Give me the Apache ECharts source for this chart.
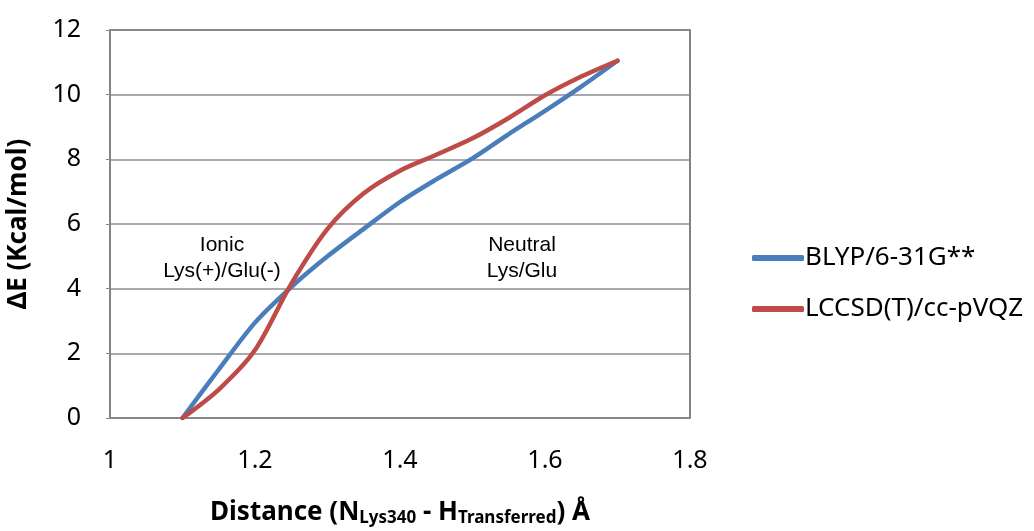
<!DOCTYPE html>
<html>
<head>
<meta charset="utf-8">
<script src="https://cdn.jsdelivr.net/npm/echarts@6/dist/echarts.min.js"></script>
<style>
    html, body {margin: 0; padding: 0; background: #fff;}
    #container {width: 1034px; height: 531px;}
</style>
</head>
<body>
<div id="container"></div>
<script>
var distance = [1.1, 1.15, 1.2, 1.25, 1.3, 1.35, 1.4, 1.45, 1.5, 1.55, 1.6, 1.65, 1.7];
var blyp = [0, 1.5, 2.95, 4.05, 5.0, 5.85, 6.68, 7.38, 8.03, 8.78, 9.5, 10.25, 11.05];
var lccsd = [0, 0.88, 2.1, 4.15, 5.85, 6.95, 7.65, 8.14, 8.65, 9.28, 9.98, 10.56, 11.05];
var seriesNames = ['BLYP/6-31G**', 'LCCSD(T)/cc-pVQZ'];
var yTicks = [0, 2, 4, 6, 8, 10, 12];

var font = '"Noto Sans", "Noto Sans CJK KR", sans-serif';
var notesFont = '"Liberation Sans", Arial, sans-serif';

function pairs(xs, ys) {
    var out = [];
    for (var i = 0; i < xs.length; i++) {
        out.push([xs[i], ys[i]]);
    }
    return out;
}

var myChart = echarts.init(document.getElementById('container'));

var option = {
    animation: false,
    backgroundColor: '#fff',
    grid: {
        left: 110, right: 344, top: 30, bottom: 113,
        outerBoundsMode: 'none',
        containLabel: false,
        show: true, borderColor: '#595959', borderWidth: 1.5
    },
    legend: {
        orient: 'vertical',
        left: 747, top: 240,
        itemWidth: 52, itemHeight: 6, itemGap: 25,
        icon: 'roundRect',
        textStyle: {fontFamily: font, fontSize: 26, color: '#000', padding: [0, 0, 0, -4]},
        data: seriesNames
    },
    xAxis: {
        type: 'value',
        min: 1, max: 1.8, interval: 0.2,
        name: '{b|Distance (N}{s|Lys340}{b| - H}{s|Transferred}{b|) Å}',
        nameLocation: 'middle', nameGap: 80,
        nameTextStyle: {
            rich: {
                b: {fontFamily: font, fontSize: 26, fontWeight: 'bold', color: '#000'},
                s: {fontFamily: font, fontSize: 17, fontWeight: 'bold', color: '#000', verticalAlign: 'bottom', padding: [12, 0, 0, 0]}
            }
        },
        axisLine: {lineStyle: {color: '#868686', width: 1.5}},
        axisTick: {show: false},
        axisLabel: {
            margin: 30, fontFamily: font, fontSize: 25, color: '#000',
            formatter: function (v) { return String(Math.round(v * 10) / 10); }
        },
        splitLine: {show: false}
    },
    yAxis: {
        type: 'value',
        min: yTicks[0], max: yTicks[yTicks.length - 1], interval: 2,
        name: 'ΔE (Kcal/mol)',
        nameLocation: 'middle', nameGap: 78,
        nameTextStyle: {fontFamily: font, fontSize: 26, fontWeight: 'bold', color: '#000'},
        axisLine: {show: true, lineStyle: {color: '#868686', width: 1.5}},
        axisTick: {show: true, inside: false, length: 4, lineStyle: {color: '#868686'}},
        axisLabel: {margin: 29, fontFamily: font, fontSize: 25, color: '#000'},
        splitLine: {lineStyle: {color: '#8c8c8c', width: 1.5}}
    },
    graphic: [
        {
            type: 'text', x: 222, y: 232,
            style: {text: 'Ionic\nLys(+)/Glu(-)', align: 'center', fontFamily: notesFont, fontSize: 21, lineHeight: 26, fill: '#000'}
        },
        {
            type: 'text', x: 522, y: 232,
            style: {text: 'Neutral\nLys/Glu', align: 'center', fontFamily: notesFont, fontSize: 21, lineHeight: 26, fill: '#000'}
        }
    ],
    series: [
        {
            name: seriesNames[0],
            type: 'line',
            data: pairs(distance, blyp),
            smooth: 0.3,
            showSymbol: false,
            color: '#4a7ebb',
            lineStyle: {width: 4.5, color: '#4a7ebb', cap: 'round'},
            z: 2
        },
        {
            name: seriesNames[1],
            type: 'line',
            data: pairs(distance, lccsd),
            smooth: 0.3,
            showSymbol: false,
            color: '#be4b48',
            lineStyle: {width: 4.5, color: '#be4b48', cap: 'round'},
            z: 3
        }
    ]
};

myChart.setOption(option, true);
</script>
</body>
</html>
